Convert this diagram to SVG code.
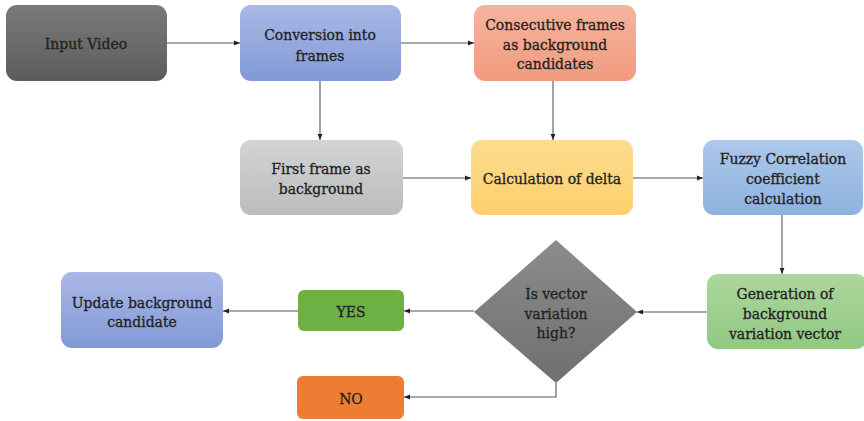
<svg xmlns="http://www.w3.org/2000/svg" width="864" height="421" viewBox="0 0 864 421">
<defs>
<linearGradient id="gDark" x1="0" y1="0" x2="0" y2="1"><stop offset="0" stop-color="#7a7a7a"/><stop offset="1" stop-color="#5c5c5c"/></linearGradient>
<linearGradient id="gBlue" x1="0" y1="0" x2="0" y2="1"><stop offset="0" stop-color="#aab8e6"/><stop offset="1" stop-color="#8299d6"/></linearGradient>
<linearGradient id="gSalmon" x1="0" y1="0" x2="0" y2="1"><stop offset="0" stop-color="#f5b49e"/><stop offset="1" stop-color="#f19b7e"/></linearGradient>
<linearGradient id="gGray" x1="0" y1="0" x2="0" y2="1"><stop offset="0" stop-color="#d4d4d4"/><stop offset="1" stop-color="#bcbcbc"/></linearGradient>
<linearGradient id="gYellow" x1="0" y1="0" x2="0" y2="1"><stop offset="0" stop-color="#fddc8f"/><stop offset="1" stop-color="#fccf6d"/></linearGradient>
<linearGradient id="gLBlue" x1="0" y1="0" x2="0" y2="1"><stop offset="0" stop-color="#adc8ea"/><stop offset="1" stop-color="#8db2df"/></linearGradient>
<linearGradient id="gLGreen" x1="0" y1="0" x2="0" y2="1"><stop offset="0" stop-color="#acd79e"/><stop offset="1" stop-color="#91c882"/></linearGradient>
<linearGradient id="gDiamond" x1="0" y1="0" x2="0" y2="1"><stop offset="0" stop-color="#8c8c8c"/><stop offset="1" stop-color="#6f6f6f"/></linearGradient>
<marker id="arr" viewBox="0 0 10 10" refX="10" refY="5" markerWidth="6" markerHeight="6" orient="auto" markerUnits="userSpaceOnUse"><path d="M0,1 L10,5 L0,9 Z" fill="#222"/></marker>
</defs>
<style>
.t{font-size:15.5px;fill:#222;stroke:#222;stroke-width:0.3;text-anchor:middle}
.t rect,.t polygon{stroke:none}
.c{fill:none;stroke:#555;stroke-width:1.1}
</style>
<rect width="864" height="421" fill="#fff"/>
<g id="connectors">
<line class="c" x1="167" y1="43" x2="240" y2="43" marker-end="url(#arr)"/>
<line class="c" x1="401" y1="43" x2="474" y2="43" marker-end="url(#arr)"/>
<line class="c" x1="320" y1="81" x2="320" y2="140" marker-end="url(#arr)"/>
<line class="c" x1="553" y1="81" x2="553" y2="140" marker-end="url(#arr)"/>
<line class="c" x1="403" y1="178" x2="471" y2="178" marker-end="url(#arr)"/>
<line class="c" x1="633" y1="178" x2="703" y2="178" marker-end="url(#arr)"/>
<line class="c" x1="782" y1="215" x2="782" y2="274" marker-end="url(#arr)"/>
<line class="c" x1="707" y1="312" x2="637" y2="312" marker-end="url(#arr)"/>
<line class="c" x1="474" y1="311" x2="404" y2="311" marker-end="url(#arr)"/>
<line class="c" x1="298" y1="311" x2="223" y2="311" marker-end="url(#arr)"/>
<polyline class="c" points="556,383 556,397 404,397" marker-end="url(#arr)"/>
</g>
<g class="t" font-family="DejaVu Serif Condensed, DejaVu Serif, serif">
<g id="input-video"><rect x="6" y="5" width="161" height="76" rx="11" fill="url(#gDark)"/><text x="86" y="49">Input Video</text></g>
<g id="conversion"><rect x="240" y="5" width="161" height="76" rx="11" fill="url(#gBlue)"/><text x="320" y="40">Conversion into</text><text x="320" y="61">frames</text></g>
<g id="consecutive"><rect x="474" y="5" width="162" height="76" rx="11" fill="url(#gSalmon)"/><text x="555" y="30">Consecutive frames</text><text x="555" y="49.5">as background</text><text x="555" y="69">candidates</text></g>
<g id="first-frame"><rect x="240" y="140" width="163" height="75" rx="11" fill="url(#gGray)"/><text x="321" y="174">First frame as</text><text x="321" y="194">background</text></g>
<g id="delta"><rect x="471" y="140" width="162" height="75" rx="11" fill="url(#gYellow)"/><text x="552" y="184">Calculation of delta</text></g>
<g id="fuzzy"><rect x="703" y="140" width="160" height="75" rx="11" fill="url(#gLBlue)"/><text x="783" y="164">Fuzzy Correlation</text><text x="783" y="184">coefficient</text><text x="783" y="204">calculation</text></g>
<g id="generation"><rect x="707" y="274" width="160" height="75" rx="11" fill="url(#gLGreen)"/><text x="785" y="299">Generation of</text><text x="785" y="319">background</text><text x="785" y="339">variation vector</text></g>
<g id="decision"><polygon points="556,240 637,312 556,383 474,312" fill="url(#gDiamond)"/><text x="556" y="299">Is vector</text><text x="556" y="319">variation</text><text x="556" y="338">high?</text></g>
<g id="yes"><rect x="298" y="290" width="106" height="41" rx="6" fill="#6db043"/><text x="351" y="317">YES</text></g>
<g id="update"><rect x="61" y="272" width="162" height="76" rx="11" fill="url(#gBlue)"/><text x="142" y="308">Update background</text><text x="142" y="327">candidate</text></g>
<g id="no"><rect x="297" y="376" width="107" height="43" rx="6" fill="#ee7d33"/><text x="351" y="404">NO</text></g>
</g>
</svg>
